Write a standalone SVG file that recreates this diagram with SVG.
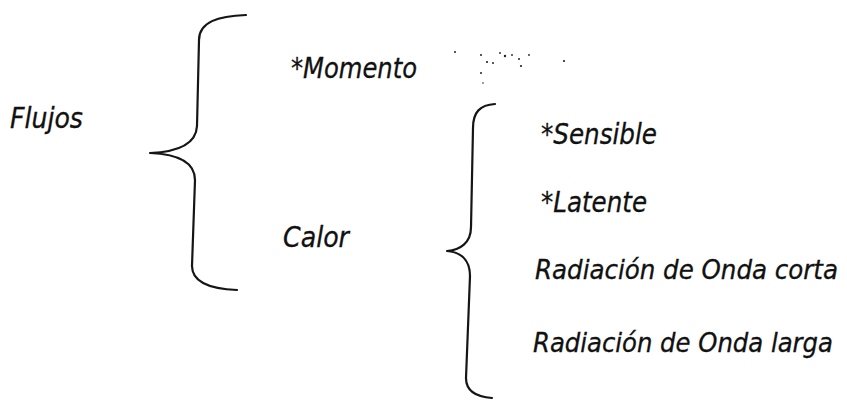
<svg xmlns="http://www.w3.org/2000/svg" width="847" height="401" viewBox="0 0 847 401">
  <style>
    .lbl { font-family: "DejaVu Sans Condensed", "DejaVu Sans", sans-serif; font-stretch: condensed; font-style: oblique; font-size: 28px; fill: #111; stroke: #111; stroke-width: 0.3; }
    .long { font-size: 27px; }
    .brace { fill: none; stroke: #151515; stroke-width: 2.2; stroke-linecap: round; stroke-linejoin: round; }
    .speck { fill: #222; }
  </style>
  <rect width="847" height="401" fill="#fff"/>

  <!-- braces grouping the terms -->
  <g id="connectors">
    <path class="brace" d="M246,15 C218,16 199,22 199,40 L197,126 C196,146 175,152 150,153 C175,154 195,160 195,180 L192,266 C192,283 212,289 237,290"/>
    <path class="brace" d="M495,104 C480,105 473,112 473,128 L471,227 C471,243 460,250 447,251 C460,252 470,259 470,276 L466,378 C466,392 478,397 492,398"/>
  </g>

  <g id="flujos"><text class="lbl" x="10" y="128" textLength="73" lengthAdjust="spacingAndGlyphs">Flujos</text></g>
  <g id="momento"><text class="lbl" x="291" y="78" textLength="126" lengthAdjust="spacingAndGlyphs">*Momento</text></g>
  <g id="calor"><text class="lbl" x="283" y="247" textLength="66" lengthAdjust="spacingAndGlyphs">Calor</text></g>
  <g id="sensible"><text class="lbl" x="541" y="144" textLength="116" lengthAdjust="spacingAndGlyphs">*Sensible</text></g>
  <g id="latente"><text class="lbl" x="541" y="212" textLength="106" lengthAdjust="spacingAndGlyphs">*Latente</text></g>
  <g id="onda-corta"><text class="lbl long" x="535" y="279" textLength="303" lengthAdjust="spacingAndGlyphs">Radiación de Onda corta</text></g>
  <g id="onda-larga"><text class="lbl long" x="533" y="352" textLength="300" lengthAdjust="spacingAndGlyphs">Radiación de Onda larga</text></g>

  <!-- stray specks beside *Momento -->
  <g id="specks">
    <circle class="speck" cx="455" cy="52" r="1"/>
    <circle class="speck" cx="481" cy="55" r="1"/>
    <circle class="speck" cx="487" cy="62" r="1.1"/>
    <circle class="speck" cx="493" cy="63" r="1"/>
    <circle class="speck" cx="500" cy="53" r="0.9"/>
    <circle class="speck" cx="505" cy="56" r="1.2"/>
    <circle class="speck" cx="512" cy="55" r="0.9"/>
    <circle class="speck" cx="519" cy="59" r="1"/>
    <circle class="speck" cx="521" cy="66" r="1.1"/>
    <circle class="speck" cx="529" cy="55" r="0.9"/>
    <circle class="speck" cx="564" cy="61" r="1.1"/>
    <circle class="speck" cx="481" cy="73" r="1"/>
    <circle class="speck" cx="483" cy="83" r="0.8"/>
  </g>
</svg>
